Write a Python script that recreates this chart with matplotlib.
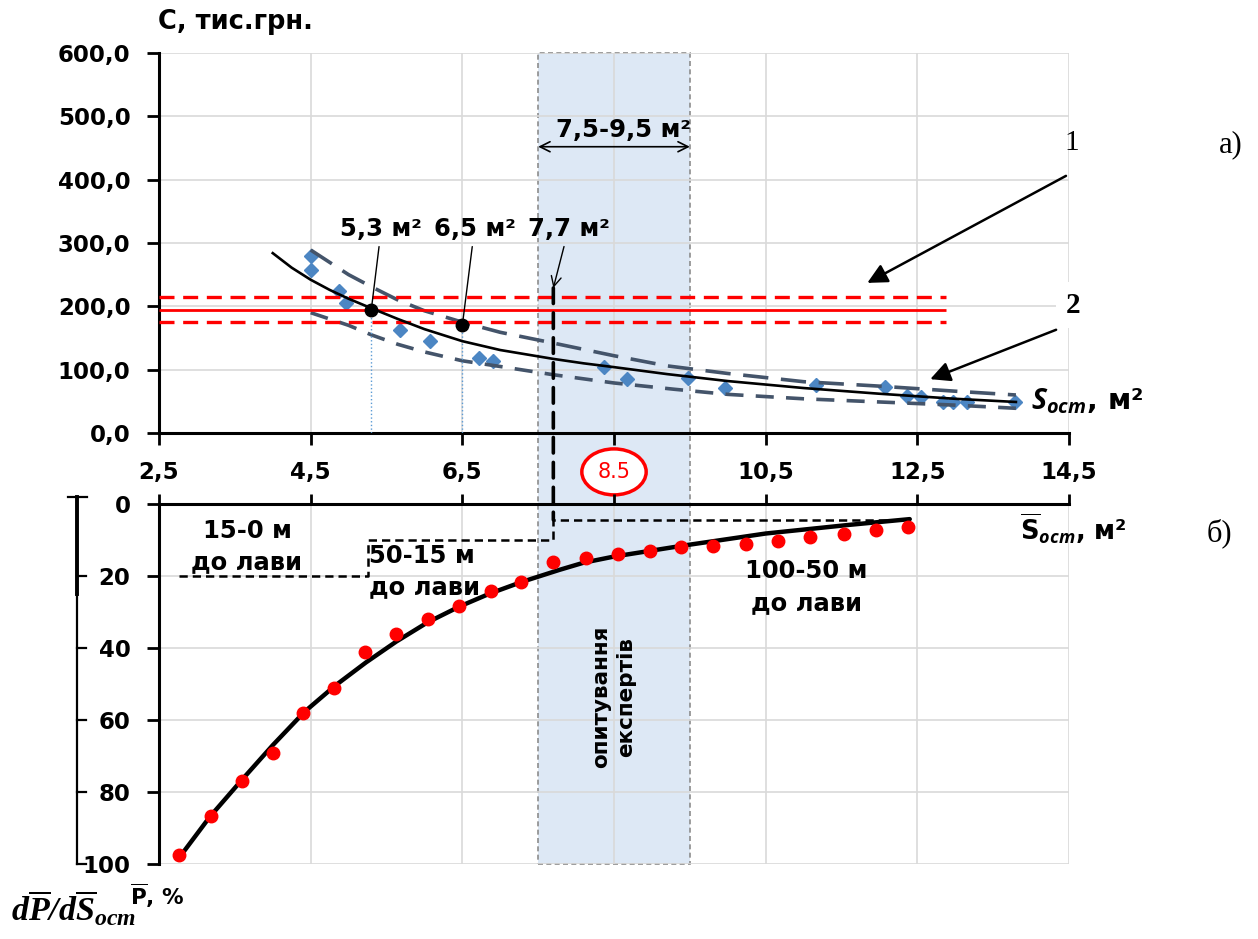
import matplotlib
matplotlib.use('Agg')
import matplotlib.pyplot as plt
from matplotlib.patches import Rectangle, ConnectionPatch
from matplotlib.transforms import blended_transform_factory

plt.rcParams['font.family'] = ['DejaVu Sans']
plt.rcParams['font.weight'] = 'bold'
plt.rcParams['mathtext.fontset'] = 'custom'
plt.rcParams['mathtext.rm'] = 'DejaVu Sans:bold'
plt.rcParams['mathtext.it'] = 'Open Sans:bold:italic'
plt.rcParams['mathtext.bf'] = 'Liberation Serif:bold:italic'

# а) вартість С, тис.грн. від перерізу S_ост, м2
s_obs = [4.5, 4.5, 4.88, 4.97, 5.68, 6.08, 6.72, 6.9, 8.37, 8.67, 9.47, 9.97,
         11.16, 12.07, 12.36, 12.55, 12.84, 12.97, 13.15, 13.79]
c_obs = [280, 258, 224, 205, 162, 145, 118, 113, 105, 86, 87, 71,
         76, 73, 59, 57, 49, 49, 49, 49]
s_fit = [4.0, 4.25, 4.5, 4.75, 5.0, 5.3, 5.65, 6.0, 6.5, 7.0, 7.35, 7.7, 8.1, 8.5,
         9.2, 10.0, 11.0, 12.0, 13.0, 13.8]
c_fit = [284, 261, 242, 226, 212, 197, 180, 164, 145, 131, 124, 117, 110, 104,
         93, 82, 71, 62, 54, 49]
s_up = [4.5, 5.0, 5.3, 5.65, 6.0, 6.5, 7.0, 7.7, 8.5, 9.2, 10.0, 11.0, 12.0, 13.0, 13.8]
c_up = [289, 250, 231, 210, 193, 175, 159, 142, 122, 106, 94, 81, 74, 66, 60]
s_lo = [4.5, 5.0, 5.3, 5.65, 6.0, 6.5, 7.0, 7.7, 8.5, 9.3, 10.0, 11.0, 12.0, 13.0, 13.8]
c_lo = [190, 170, 155, 140, 128, 114, 105, 92, 79, 69, 61, 54, 49, 44, 39]
c_level = 195
c_level_up = 215
c_level_lo = 175
level_end = 12.88
opt_s = [5.3, 6.5]
opt_c = [195, 170]
s_ticks = [2.5, 4.5, 6.5, 8.5, 10.5, 12.5, 14.5]
c_ticks = [0, 100, 200, 300, 400, 500, 600]

# б) P, % від S_ост
s_p = [2.76, 3.18, 3.59, 4.0, 4.40, 4.81, 5.22, 5.63, 6.05, 6.45, 6.88, 7.28,
       7.70, 8.13, 8.55, 8.97, 9.39, 9.80, 10.24, 10.66, 11.09, 11.53, 11.95, 12.38]
p_obs = [97.5, 86.7, 76.9, 69.1, 58.1, 51.0, 41.2, 36.0, 32.0, 28.2, 24.2, 21.6,
         16.1, 15.1, 13.9, 13.0, 12.0, 11.7, 11.1, 10.2, 9.2, 8.4, 7.2, 6.4]
s_pfit = [2.75, 3.17, 3.59, 4.0, 4.42, 4.82, 5.23, 5.63, 6.04, 6.46, 6.86, 7.29,
          7.78, 8.1, 8.5, 9.4, 10.5, 11.6, 12.4]
p_fit = [98.7, 86.9, 76.7, 67.0, 57.7, 50.5, 44.0, 38.2, 32.9, 28.5, 24.9, 21.6,
         18.3, 16.3, 14.6, 11.6, 8.2, 5.8, 4.2]
p_ticks = [0, 20, 40, 60, 80, 100]
step_s = [2.76, 5.25, 5.25, 7.7, 7.7, 12.4]
step_p = [20, 20, 10, 10, 4.4, 4.4]
band = (7.5, 9.5)
s_77 = 7.7
c_77 = 229

blue = '#4C86C3'
slate = '#44546A'
grid_c = '#D9D9D9'

fig = plt.figure(figsize=(12.58, 9.39), dpi=100)
W, H = 1258, 939
ax1 = fig.add_axes([159 / W, 1 - 433 / H, 910 / W, 380 / H])
ax2 = fig.add_axes([159 / W, 1 - 864 / H, 910 / W, 360 / H])
for ax in (ax1, ax2):
    ax.set_facecolor('none')
    ax.set_xlim(2.5, 14.5)
    ax.set_xticks(s_ticks)
    ax.grid(True, color=grid_c, lw=1.2)
    ax.set_axisbelow(True)
    ax.spines['right'].set_visible(False)

# смуга "опитування експертів" через обидва графіки
tr = blended_transform_factory(ax1.transData, fig.transFigure)
fig.add_artist(Rectangle((band[0], 1 - 864 / H), band[1] - band[0], (864 - 53) / H,
                         transform=tr, facecolor='#DDE8F5', edgecolor='#8C8C8C',
                         lw=1.2, ls=(0, (3, 2)), zorder=-1))

# ---------- а) ----------
ax1.set_ylim(0, 600)
ax1.set_yticks(c_ticks)
ax1.set_yticklabels([f'{v:.1f}'.replace('.', ',') for v in c_ticks])
ax1.set_xticklabels(['' if v == 8.5 else f'{v:.1f}'.replace('.', ',') for v in s_ticks])
ax1.spines['top'].set_visible(False)
for sp in ('left', 'bottom'):
    ax1.spines[sp].set_linewidth(2.2)
ax1.tick_params(direction='out', length=8.5, width=2, labelsize=16.5, pad=12)

ax1.plot(s_obs, c_obs, ls='none', marker='D', ms=7.5, color=blue, zorder=2)
ax1.plot(s_up, c_up, color=slate, lw=2.6, dashes=(7, 3.5), zorder=3)
ax1.plot(s_lo, c_lo, color=slate, lw=2.6, dashes=(5, 3.4), zorder=3)
ax1.plot(s_fit, c_fit, color='black', lw=1.9, zorder=4, solid_joinstyle='round')
ax1.hlines(c_level, 2.5, level_end, color='red', lw=2, zorder=3)
ax1.hlines([c_level_up, c_level_lo], 2.5, level_end, color='red', lw=2.4,
           linestyles=[(0, (4.5, 2.6))], zorder=3)
ax1.vlines(opt_s, 0, opt_c, color='#5B9BD5', lw=1, linestyles=':', zorder=3)
ax1.plot(opt_s, opt_c, ls='none', marker='o', ms=9, color='black', zorder=5)

lbl = dict(fontsize=17.5, ha='center', va='center')
ax1.annotate('5,3 м²', xy=(opt_s[0], opt_c[0]), xytext=(5.43, 322),
             arrowprops=dict(arrowstyle='-', lw=1, color='black', shrinkB=0), **lbl)
ax1.annotate('6,5 м²', xy=(opt_s[1], opt_c[1]), xytext=(6.66, 322),
             arrowprops=dict(arrowstyle='-', lw=1, color='black', shrinkB=0), **lbl)
ax1.annotate('7,7 м²', xy=(s_77, c_77), xytext=(7.9, 322),
             arrowprops=dict(arrowstyle='->', lw=1, color='black', shrinkB=0,
                             mutation_scale=18), **lbl)
ax1.annotate('', xy=(band[0], 452), xytext=(band[1], 452),
             arrowprops=dict(arrowstyle='<->', lw=1.2, color='black',
                             shrinkA=0, shrinkB=0, mutation_scale=18))
ax1.text(8.63, 478, '7,5-9,5 м²', fontsize=17.5, ha='center', va='center')

ax1.annotate('8.5', xy=(8.5, 0), xytext=(0, -28), textcoords='offset points',
             ha='center', va='center', color='red', fontsize=15, fontweight='normal',
             annotation_clip=False,
             bbox=dict(boxstyle='ellipse,pad=0.3', fc='white', ec='red', lw=2.5),
             zorder=10)

ax1.annotate('', xy=(11.84, 237), xytext=(14.46, 406), annotation_clip=False,
             arrowprops=dict(arrowstyle='-|>', lw=1.8, color='black',
                             shrinkA=0, shrinkB=0, mutation_scale=30))
ax1.annotate('', xy=(12.67, 85), xytext=(14.33, 163), annotation_clip=False,
             arrowprops=dict(arrowstyle='-|>', lw=1.8, color='black',
                             shrinkA=0, shrinkB=0, mutation_scale=30))
ax1.text(14.53, 458, '1', family='Liberation Serif', fontweight='normal', fontsize=21,
         ha='center', va='center', clip_on=False)
ax1.text(14.55, 202, '2', family='Liberation Serif', fontweight='bold', fontsize=21,
         ha='center', va='center', clip_on=False,
         bbox=dict(fc='white', ec='none', pad=7))
ax1.text(16.63, 455, 'а)', family='Liberation Serif', fontweight='normal', fontsize=22,
         ha='center', va='center', clip_on=False)
ax1.text(14.0, 37, r'$\mathit{S}_{\mathit{ост}}$, м²', fontsize=20.5, ha='left',
         va='baseline', clip_on=False)
fig.text(235 / W, 1 - 22 / H, 'С, тис.грн.', fontsize=18.5, ha='center', va='center')

# ---------- б) ----------
ax2.set_ylim(100, 0)
ax2.set_yticks(p_ticks)
ax2.xaxis.tick_top()
ax2.tick_params(axis='x', labeltop=False, direction='out', length=7, width=2)
ax2.tick_params(axis='y', direction='out', length=8.5, width=2, labelsize=16.5, pad=12)
ax2.spines['bottom'].set_visible(False)
for sp in ('left', 'top'):
    ax2.spines[sp].set_linewidth(2.2)

ax2.plot(step_s, step_p, color='black', lw=1.8, dashes=(3.3, 2), zorder=3)
ax2.plot(s_pfit, p_fit, color='black', lw=3.2, zorder=4, solid_joinstyle='round',
         solid_capstyle='round')
ax2.plot(s_p, p_obs, ls='none', marker='o', ms=9, color='red', zorder=5)

fig.add_artist(ConnectionPatch(xyA=(s_77, c_77), coordsA=ax1.transData,
                               xyB=(s_77, step_p[-1]), coordsB=ax2.transData,
                               arrowstyle='-', lw=2.6, color='black',
                               linestyle=(0, (4.3, 2.6)), zorder=6))

ax2.text(3.66, 11.8, '15-0 м\nдо лави', fontsize=17.5, ha='center', va='center',
         linespacing=1.4)
ax2.text(5.27, 18.7, '50-15 м\nдо лави', fontsize=17.5, ha='left', va='center',
         linespacing=1.4)
ax2.text(11.04, 23.1, '100-50 м\nдо лави', fontsize=17.5, ha='center', va='center',
         linespacing=1.4)
ax2.text(8.49, 53.6, 'опитування\nекспертів', fontsize=15.5, rotation=90,
         ha='center', va='center', linespacing=1.3)

ax2.text(13.86, 10, r'$\overline{\mathrm{S}}_{\mathit{ост}}$, м²', fontsize=18.5,
         ha='left', va='baseline', clip_on=False)
ax2.text(16.49, 8.1, 'б)', family='Liberation Serif', fontweight='normal', fontsize=22,
         ha='center', va='center', clip_on=False)
ax2.text(2.12, 111.4, r'$\overline{\mathrm{P}}$, %', fontsize=15.5, ha='left',
         va='baseline', clip_on=False)
ax2.text(0.55, 116, r'$\mathbf{d\overline{P}/d\overline{S}_{ост}}$', fontsize=24.5,
         ha='left', va='baseline', clip_on=False)

# додаткова вісь ліворуч
tl = blended_transform_factory(ax2.transAxes, ax2.transData)
xl = -0.09
ax2.plot([xl, xl], [-2, 25], color='black', lw=2.8, transform=tl, clip_on=False)
ax2.plot([xl, xl], [25, 100], color='black', lw=1.6, transform=tl, clip_on=False)
ax2.plot([xl - 0.01, xl + 0.011], [-2, -2], color='black', lw=1.6, transform=tl,
         clip_on=False)
for v in p_ticks[1:]:
    ax2.plot([xl, xl + 0.01], [v, v], color='black', lw=1.6, transform=tl, clip_on=False)

fig.savefig('out.png', dpi=100)
